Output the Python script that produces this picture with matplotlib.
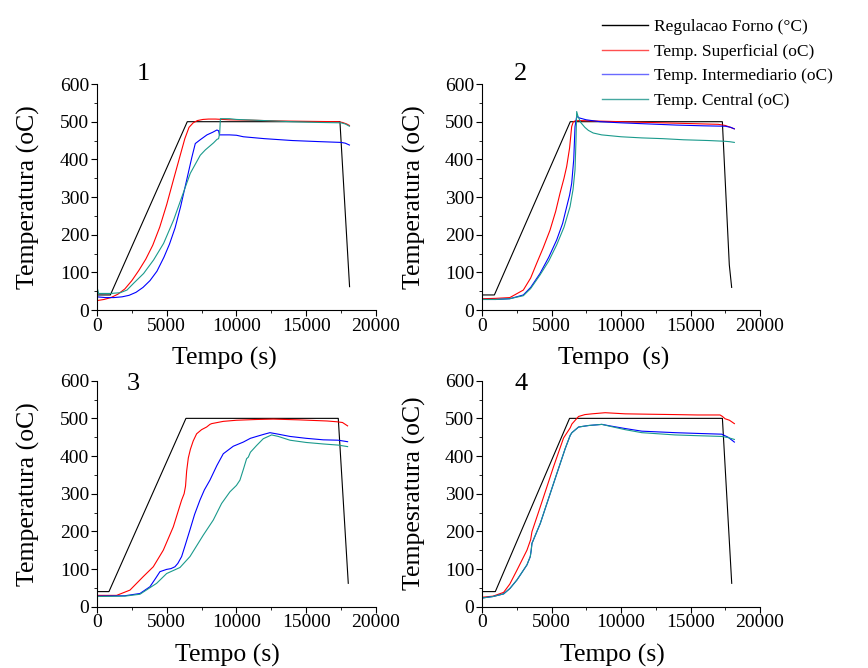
import matplotlib
matplotlib.use("Agg")
import matplotlib.pyplot as plt
import matplotlib.ticker as ticker
from matplotlib.lines import Line2D

plt.rcParams.update({
    "font.family": "serif",
    "font.serif": ["Liberation Serif", "DejaVu Serif"],
    "font.size": 14,
    "xtick.labelsize": 14,
    "ytick.labelsize": 14,
    "xtick.direction": "out",
    "ytick.direction": "out",
    "xtick.major.size": 4.0,
    "ytick.major.size": 4.0,
    "xtick.minor.size": 2.5,
    "ytick.minor.size": 2.5,
    "xtick.major.pad": 1.5,
    "ytick.major.pad": 1.5,
    "axes.linewidth": 0.8,
})

# ---- data (time in s, temperature in oC) ----
# panel 1
p1_forno_t = [0, 960, 6475, 17420, 18110]
p1_forno_y = [40, 40, 500, 500, 62]
p1_sup_t = [0, 500, 1000, 1500, 2000, 2500, 3000, 3500, 4000, 4500, 5000, 5500, 6000, 6300,
            6600, 6900, 7200, 7600, 8000, 8500, 9500, 11000, 13000, 15000, 17300, 17600, 17900, 18100]
p1_sup_y = [25, 28, 33, 42, 56, 78, 105, 135, 172, 220, 280, 348, 415, 455,
            485, 497, 503, 506, 507, 507, 505, 504, 502, 501, 500, 498, 494, 490]
p1_int_t = [0, 600, 1200, 1800, 2300, 2800, 3300, 3800, 4300, 4800, 5200, 5600, 6000, 6400, 6800,
            7050, 7400, 7885, 8300, 8600, 8721, 8780, 9500, 10000, 10500, 12000, 14000, 16000,
            17500, 17800, 18100]
p1_int_y = [35, 33, 33, 35, 39, 47, 60, 78, 103, 140, 175, 218, 275, 340, 405,
            442, 452, 465, 472, 478, 476, 465, 465, 464, 460, 455, 450, 447,
            445, 443, 438]
p1_cen_t = [0, 120, 1000, 1673, 2151, 2628, 3345, 4062, 4779, 5496, 6093, 6691, 7407, 7766,
            8363, 8602, 8721, 8800, 8850, 9500, 10000, 12000, 14000, 16000, 17500, 17800, 18100]
p1_cen_y = [62, 44, 44, 46, 53, 71, 97, 133, 177, 239, 301, 363, 411, 425,
            444, 453, 455, 470, 508, 508, 506, 503, 500, 498, 497, 494, 488]

# panel 2
p2_forno_t = [0, 890, 6350, 17290, 17790, 17960]
p2_forno_y = [40, 40, 500, 500, 120, 60]
p2_sup_t = [0, 1000, 2000, 2974, 3500, 3933, 4400, 4892, 5300, 5612, 5900, 6091, 6300, 6451, 6571,
            6700, 7000, 8000, 10000, 13000, 15000, 17000, 17500, 17800, 18150]
p2_sup_y = [30, 31, 33, 53, 85, 124, 165, 212, 262, 310, 350, 381, 430, 487, 500,
            502, 503, 502, 500, 497, 495, 493, 490, 486, 481]
p2_int_t = [0, 1000, 2000, 2974, 3500, 4173, 4800, 5372, 5800, 6091, 6300, 6451, 6600, 6691, 6811,
            7000, 7500, 8500, 10000, 12000, 14000, 16000, 17500, 17900, 18150]
p2_int_y = [28, 28, 30, 40, 60, 97, 140, 186, 230, 274, 305, 336, 400, 487, 514,
            510, 505, 500, 497, 494, 491, 489, 488, 485, 481]
p2_cen_t = [0, 1000, 2000, 2974, 3500, 4173, 4800, 5372, 5900, 6331, 6550, 6691, 6760, 6811, 6900,
            7100, 7400, 7650, 8000, 8609, 10000, 11487, 13000, 14500, 16283, 17482, 17800, 18153]
p2_cen_y = [28, 28, 30, 38, 57, 93, 130, 173, 220, 274, 320, 372, 450, 527, 515,
            498, 485, 477, 470, 465, 460, 457, 455, 452, 450, 448, 447, 445]

# panel 3
p3_forno_t = [0, 860, 6380, 17300, 18017]
p3_forno_y = [40, 40, 500, 500, 62]
p3_sup_t = [0, 1410, 2366, 3322, 4039, 4756, 5473, 6070, 6250, 6350, 6430, 6550, 6700, 6900, 7145,
            7500, 7862, 8100, 8220, 9056, 10000, 11446, 12640, 14500, 16500, 17180, 17600, 17970]
p3_sup_y = [30, 30, 44, 80, 106, 150, 212, 283, 300, 320, 360, 395, 418, 440, 459,
            470, 477, 484, 486, 492, 495, 497, 498, 496, 493, 491, 489, 480]
p3_int_t = [0, 2000, 3083, 3800, 4200, 4517, 4995, 5300, 5592, 5800, 6070, 6300, 6667, 7000, 7384,
            7700, 8100, 8600, 9056, 9773, 10490, 11000, 11446, 12000, 12401, 13000, 13835, 15000,
            16224, 17300, 17970]
p3_int_y = [28, 29, 35, 53, 75, 93, 99, 101, 106, 115, 133, 160, 204, 245, 283,
            310, 336, 375, 406, 426, 437, 447, 452, 458, 462, 458, 452, 447,
            443, 442, 438]
p3_cen_t = [0, 2000, 3083, 4278, 4995, 5951, 6667, 7623, 8339, 8936, 9534, 10000, 10251, 10500,
            10729, 10850, 11000, 11446, 11924, 12521, 13000, 13835, 15000, 16224, 17300, 17970]
p3_cen_y = [27, 28, 33, 62, 88, 104, 133, 190, 230, 274, 305, 322, 336, 365,
            393, 397, 410, 428, 446, 456, 452, 442, 436, 432, 429, 425]

# panel 4
p4_forno_t = [0, 958, 6299, 17293, 17964]
p4_forno_y = [40, 40, 500, 500, 62]
p4_sup_t = [0, 800, 1557, 2000, 2515, 3234, 3500, 3593, 4192, 5150, 5868, 6347, 6467, 6946, 7400,
            7904, 8862, 10299, 12000, 13892, 15500, 17126, 17300, 17485, 17800, 18156]
p4_sup_y = [25, 28, 38, 60, 97, 150, 178, 199, 265, 372, 448, 475, 485, 505, 510,
            512, 515, 512, 511, 510, 509, 509, 505, 499, 495, 486]
p4_int_t = [0, 800, 1557, 2000, 2515, 3234, 3473, 3540, 3593, 4192, 5389, 5988, 6347, 6467, 6946,
            7665, 8623, 9200, 10299, 11497, 13892, 15500, 17245, 17700, 18156]
p4_int_y = [23, 27, 34, 48, 71, 111, 133, 150, 168, 221, 354, 420, 455, 462, 477,
            481, 484, 480, 473, 466, 462, 460, 458, 450, 437]
p4_cen_t = p4_int_t
p4_cen_y = [23, 27, 34, 48, 71, 111, 133, 150, 168, 221, 354, 420, 455, 462, 477,
            481, 484, 479, 470, 462, 456, 454, 452, 449, 444]

labels = ["Regulacao Forno (\u00b0C)", "Temp. Superficial (oC)",
          "Temp. Intermediario (oC)", "Temp. Central (oC)"]
colors = ["black", "#ff0000", "#0000ff", "#1a9a8c"]
legend_colors = ["black", "#ff5050", "#6a6aff", "#45a8a0"]

panels = [
    ("1", [(p1_forno_t, p1_forno_y), (p1_sup_t, p1_sup_y), (p1_int_t, p1_int_y), (p1_cen_t, p1_cen_y)],
     "Temperatura (oC)", "Tempo (s)"),
    ("2", [(p2_forno_t, p2_forno_y), (p2_sup_t, p2_sup_y), (p2_int_t, p2_int_y), (p2_cen_t, p2_cen_y)],
     "Temperatura (oC)", "Tempo  (s)"),
    ("3", [(p3_forno_t, p3_forno_y), (p3_sup_t, p3_sup_y), (p3_int_t, p3_int_y), (p3_cen_t, p3_cen_y)],
     "Temperatura (oC)", "Tempo (s)"),
    ("4", [(p4_forno_t, p4_forno_y), (p4_sup_t, p4_sup_y), (p4_int_t, p4_int_y), (p4_cen_t, p4_cen_y)],
     "Tempesratura (oC)", "Tempo (s)"),
]

# axes boxes in figure fractions (left, bottom, width, height)
boxes = [
    [0.1117, 0.5359, 0.3214, 0.3383],
    [0.5553, 0.5359, 0.3203, 0.3383],
    [0.1117, 0.0918, 0.3214, 0.3383],
    [0.5553, 0.0918, 0.3203, 0.3383],
]
num_pos = [(0.165, 1.045), (0.14, 1.045), (0.13, 0.985), (0.14, 0.985)]
xlabel_x = [0.455, 0.475, 0.466, 0.468]

fig = plt.figure(figsize=(8.68, 6.68), dpi=100)

for (num, series, ylab, xlab), box, npos, lx in zip(panels, boxes, num_pos, xlabel_x):
    ax = fig.add_axes(box)
    for (t, y), c in zip(series, colors):
        ax.plot(t, y, color=c, linewidth=0.8)
    ax.set_xlim(0, 20000)
    ax.set_ylim(0, 600)
    ax.xaxis.set_major_locator(ticker.MultipleLocator(5000))
    ax.xaxis.set_minor_locator(ticker.MultipleLocator(2500))
    ax.yaxis.set_major_locator(ticker.MultipleLocator(100))
    ax.yaxis.set_minor_locator(ticker.MultipleLocator(50))
    ax.spines["top"].set_visible(False)
    ax.spines["right"].set_visible(False)
    ax.set_xlabel(xlab, fontsize=18.5, labelpad=9)
    ax.xaxis.label.set_x(lx)
    ax.set_ylabel(ylab, fontsize=18.5, labelpad=14)
    ax.text(npos[0], npos[1], num, transform=ax.transAxes, fontsize=19,
            ha="center", va="center")

handles = [Line2D([], [], color=c, linewidth=1.0) for c in legend_colors]
fig.legend(handles, labels, loc="upper left", bbox_to_anchor=(0.685, 0.982),
           frameon=False, fontsize=12.5, handlelength=2.65, handletextpad=0.4,
           labelspacing=0.49, borderaxespad=0)

fig.savefig("out.png", dpi=100)
